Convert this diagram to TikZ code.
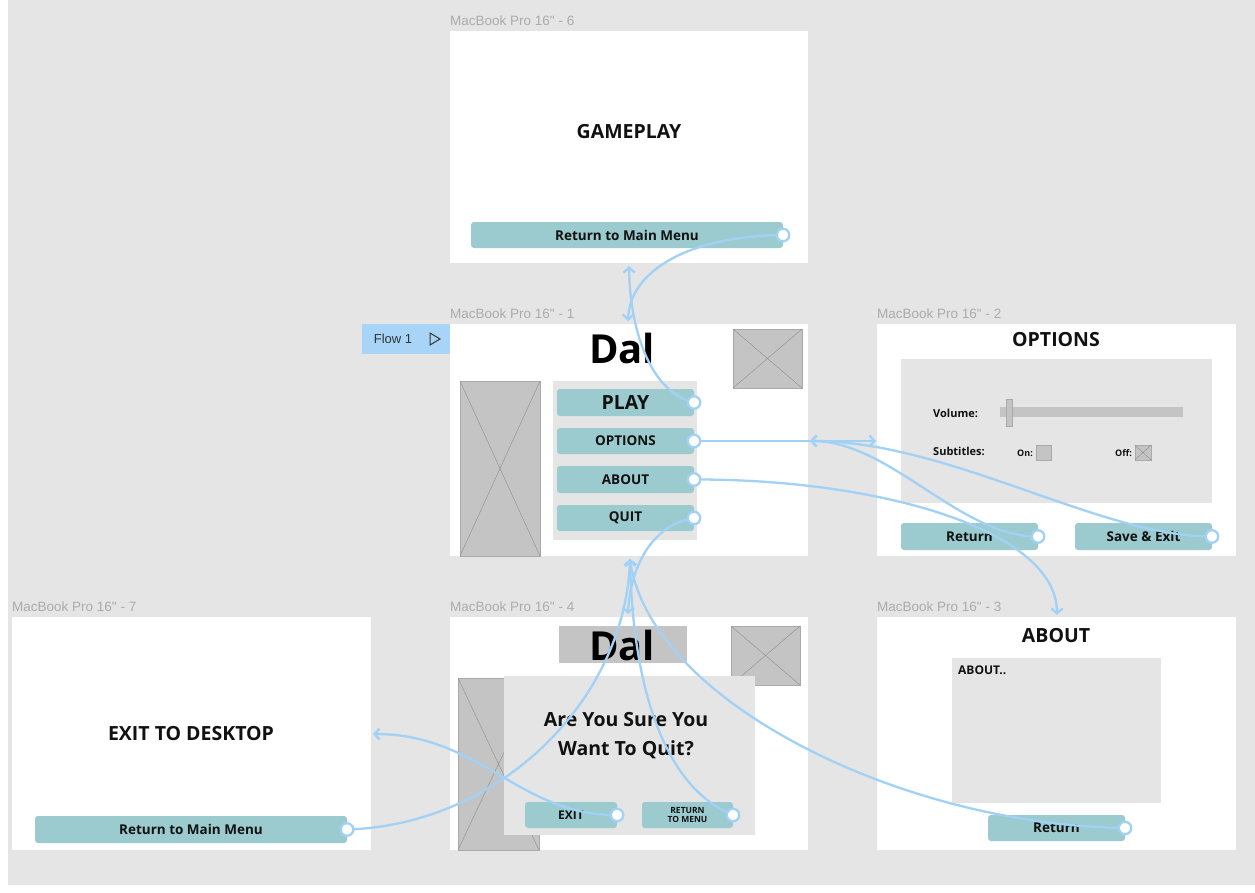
\documentclass[tikz,border=0pt]{standalone}
\usepackage{fontspec}
\setmainfont{Open Sans}
\newfontfamily\lblfont{Liberation Sans}
\usetikzlibrary{arrows.meta,calc}
\definecolor{bggray}{HTML}{E5E5E5}
\definecolor{btnteal}{HTML}{9BCBCE}
\definecolor{phgray}{HTML}{C4C4C4}
\definecolor{phborder}{HTML}{A9A9A9}
\definecolor{phline}{HTML}{8C8C8C}
\definecolor{flowblue}{HTML}{A2D1F6}
\definecolor{lblgray}{HTML}{ABABAB}
\definecolor{tagblue}{HTML}{A8D4F8}
\definecolor{inktext}{HTML}{111111}
\newcommand{\fs}[1]{\fontsize{#1}{#1}\selectfont}
\tikzset{
  screen/.style={fill=white, draw=none, inner sep=0, outer sep=0, anchor=north west},
  lbl/.style={font=\lblfont\fs{13.5}, text=lblgray, anchor=base west, inner sep=0},
  btn/.style={fill=btnteal, rounded corners=3pt, inner sep=0, outer sep=0, anchor=north west, text=inktext, font=\bfseries\fs{13.5}},
  ph/.style={fill=phgray, draw=phborder, line width=0.6pt, anchor=north west, inner sep=0, outer sep=0},
  panel/.style={fill=bggray, anchor=north west, inner sep=0, outer sep=0},
  title/.style={font=\bfseries\fs{19.5}, text=inktext, inner sep=0},
  small/.style={font=\bfseries\fs{11}, text=inktext, inner sep=0, anchor=west},
  conn/.style={draw=flowblue, line width=2.3pt},
  arr/.style={-{Straight Barb[length=5pt,width=11pt]}},
  dotc/.style={circle, draw=flowblue, fill=white, line width=2.3pt, minimum size=12.5pt, inner sep=0},
}
\newcommand{\phx}[1]{\draw[phline, line width=0.4pt] (#1.north west) -- (#1.south east) (#1.north east) -- (#1.south west);}
\begin{document}
\begin{tikzpicture}[x=1pt,y=-1pt]
\useasboundingbox (0,0) rectangle (1255,892);
\fill[white] (0,0) rectangle (1255,892);
\fill[bggray] (8,0) rectangle (1255,885);

% ---------- screen 6 : gameplay
\node[lbl] (l6) at (450,25) {MacBook Pro 16" - 6};
\node[screen, minimum width=358, minimum height=232] (f6) at (450,31) {};
\node[title] (tGame) at (629,132) {GAMEPLAY};
\node[btn, minimum width=312, minimum height=26] (bG6) at (471,222) {Return to Main Menu};

% ---------- screen 1 : main menu
\node[lbl] (l1) at (450,318) {MacBook Pro 16" - 1};
\node[fill=tagblue, anchor=north west, minimum width=88, minimum height=30, inner sep=0] (flow) at (362,324) {};
\node[font=\lblfont\fs{13}, text=black!80, inner sep=0] (flowt) at (393,339) {Flow 1};
\draw[black!80, line width=1pt, line join=miter] (430,333) -- (440,339) -- (430,345) -- cycle;
\node[screen, minimum width=358, minimum height=232] (f1) at (450,324) {};
\node[font=\bfseries\fs{40}, text=black, inner sep=0] (dal1) at (622,348) {Dal};
\node[ph, minimum width=69, minimum height=59] (ph1a) at (733,329) {}; \phx{ph1a}
\node[ph, minimum width=80, minimum height=175] (ph1b) at (460,381) {}; \phx{ph1b}
\node[panel, minimum width=144, minimum height=159] (pan1) at (553,381) {};
\node[btn, minimum width=137, minimum height=27, font=\bfseries\fs{19.5}] (bPlay) at (557,389) {PLAY};
\node[btn, minimum width=137, minimum height=26, font=\bfseries\fs{13.5}] (bOpt) at (557,428) {OPTIONS};
\node[btn, minimum width=137, minimum height=27, font=\bfseries\fs{13.5}] (bAbout) at (557,466) {ABOUT};
\node[btn, minimum width=137, minimum height=26, font=\bfseries\fs{13.5}] (bQuit) at (557,505) {QUIT};

% ---------- screen 2 : options
\node[lbl] (l2) at (877,318) {MacBook Pro 16" - 2};
\node[screen, minimum width=359, minimum height=232] (f2) at (877,324) {};
\node[title] (tOpt) at (1056,340) {OPTIONS};
\node[panel, minimum width=311, minimum height=144] (pan2) at (901,359) {};
\node[small] (tVol) at (933,413) {Volume:};
\node[fill=phgray, anchor=north west, minimum width=183, minimum height=10, inner sep=0] (track) at (1000,407) {};
\node[fill=phgray, draw=phborder, line width=0.5pt, anchor=north west, minimum width=6, minimum height=27, inner sep=0] (handle) at (1006,399) {};
\node[small] (tSub) at (933,451) {Subtitles:};
\node[small, font=\bfseries\fs{9}] (tOn) at (1017,453) {On:};
\node[ph, minimum width=15, minimum height=15] (boxOn) at (1036,445) {};
\node[small, font=\bfseries\fs{9}] (tOff) at (1115,453) {Off:};
\node[ph, minimum width=16, minimum height=15] (boxOff) at (1135,445) {}; \phx{boxOff}
\node[btn, minimum width=137, minimum height=27] (bORet) at (901,523) {Return};
\node[btn, minimum width=137, minimum height=27] (bOSave) at (1075,523) {Save \& Exit};

% ---------- screen 3 : about
\node[lbl] (l3) at (877,611) {MacBook Pro 16" - 3};
\node[screen, minimum width=359, minimum height=233] (f3) at (877,617) {};
\node[title] (tAbout) at (1056,636) {ABOUT};
\node[panel, minimum width=209, minimum height=145] (pan3) at (952,658) {};
\node[small, font=\bfseries\fs{12}] (tAbt) at (958,670) {ABOUT..};
\node[btn, minimum width=137, minimum height=26] (bARet) at (988,815) {Return};

% ---------- screen 4 : quit
\node[lbl] (l4) at (450,611) {MacBook Pro 16" - 4};
\node[screen, minimum width=358, minimum height=233] (f4) at (450,617) {};
\node[fill=phgray, anchor=north west, minimum width=128, minimum height=37, inner sep=0] (dalbox) at (559,626) {};
\node[font=\bfseries\fs{40}, text=black, inner sep=0] (dal4) at (622,645) {Dal};
\node[ph, minimum width=69, minimum height=59] (ph4a) at (731,626) {}; \phx{ph4a}
\node[ph, minimum width=81, minimum height=172] (ph4b) at (458,678) {}; \phx{ph4b}
\node[panel, minimum width=251, minimum height=159] (pan4) at (504,676) {};
\node[title] (tSure) at (626,720) {Are You Sure You};
\node[title] (tQuit) at (626,750) {Want To Quit?};
\node[btn, minimum width=92, minimum height=26, font=\bfseries\fs{12}] (bExit) at (525,802) {EXIT};
\node[btn, minimum width=91, minimum height=26, font=\bfseries\fs{8.5}, align=center] (bRtm) at (642,802) {RETURN\\[1pt]TO MENU};

% ---------- screen 7 : exit
\node[lbl] (l7) at (12,611) {MacBook Pro 16" - 7};
\node[screen, minimum width=359, minimum height=233] (f7) at (12,617) {};
\node[title] (tDesk) at (191,734) {EXIT TO DESKTOP};
\node[btn, minimum width=312, minimum height=27] (bX7) at (35,816) {Return to Main Menu};

% ---------- connector end points
\coordinate (dG6) at (bG6.east);
\coordinate (dPlay) at (bPlay.east);
\coordinate (dOpt) at (bOpt.east);
\coordinate (dAbout) at (bAbout.east);
\coordinate (dQuit) at (bQuit.east);
\coordinate (dORet) at (bORet.east);
\coordinate (dOSave) at (bOSave.east);
\coordinate (dARet) at (bARet.east);
\coordinate (dExit) at (bExit.east);
\coordinate (dRtm) at (bRtm.east);
\coordinate (dX7) at (bX7.east);
\coordinate (aG) at (629,266);
\coordinate (aM1t) at (628,321);
\coordinate (aOpt) at (876,441);
\coordinate (aM1r) at (810,441);
\coordinate (aAbout) at (1057,615);
\coordinate (aM1b) at (630,559);
\coordinate (aQ) at (628,614);
\coordinate (aExit) at (373,734);

% ---------- connectors
\draw[conn,arr] (dPlay) .. controls (650,392) and (630,330) .. (aG);
\draw[conn,arr] (dG6) .. controls (690,236) and (630,270) .. (aM1t);
\draw[conn,arr] (dOpt) -- (aOpt);
\draw[conn,arr] (dORet) .. controls (960,537) and (890,441) .. (aM1r);
\draw[conn,arr] (dOSave) .. controls (1100,537) and (950,441) .. (aM1r);
\draw[conn,arr] (dAbout) .. controls (880,479) and (1057,530) .. (aAbout);
\draw[conn,arr] (dQuit) .. controls (650,525) and (630,570) .. (aQ);
\draw[conn,arr] (dX7) .. controls (500,825) and (625,700) .. (aM1b);
\draw[conn,arr] (dRtm) .. controls (670,790) and (633,700) .. (aM1b);
\draw[conn,arr] (dARet) .. controls (900,825) and (650,700) .. (aM1b);
\draw[conn,arr] (dExit) .. controls (520,816) and (480,734) .. (aExit);

% ---------- connector dots
\node[dotc] (oG6) at (dG6) {};
\node[dotc] (oPlay) at (dPlay) {};
\node[dotc] (oOpt) at (dOpt) {};
\node[dotc] (oAbout) at (dAbout) {};
\node[dotc] (oQuit) at (dQuit) {};
\node[dotc] (oORet) at (dORet) {};
\node[dotc] (oOSave) at (dOSave) {};
\node[dotc] (oARet) at (dARet) {};
\node[dotc] (oExit) at (dExit) {};
\node[dotc] (oRtm) at (dRtm) {};
\node[dotc] (oX7) at (dX7) {};
\end{tikzpicture}
\end{document}
